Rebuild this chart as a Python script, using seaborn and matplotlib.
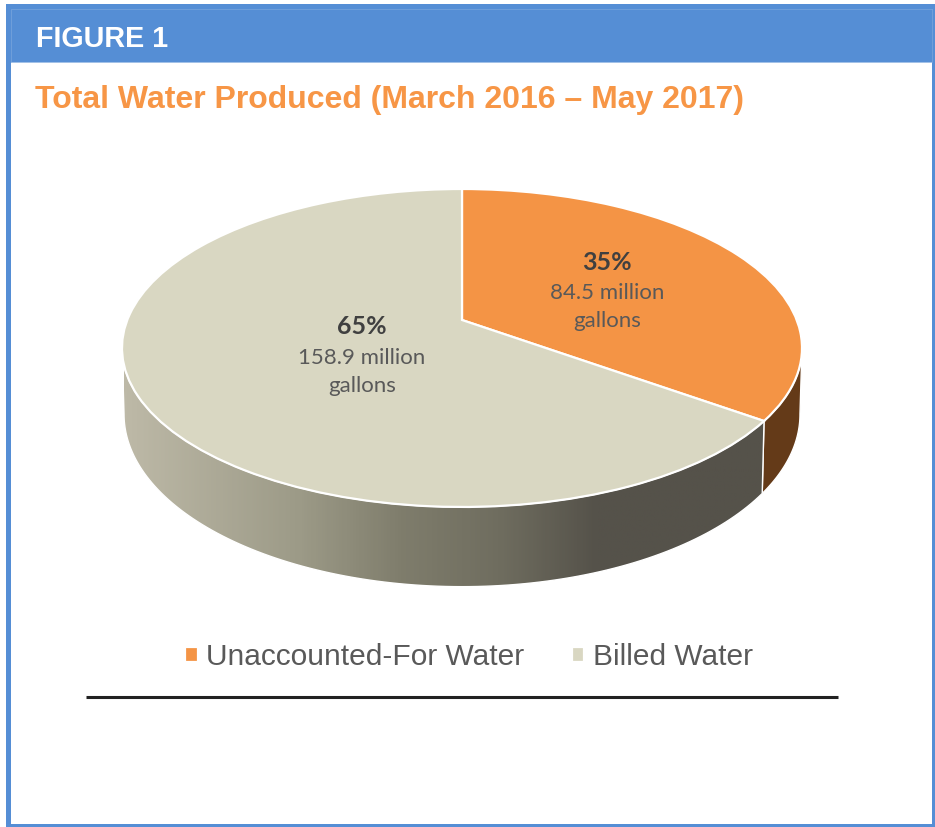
import numpy as np
import matplotlib
matplotlib.use("Agg")
import matplotlib.pyplot as plt
from matplotlib.colors import LinearSegmentedColormap
from matplotlib.patches import PathPatch, Rectangle
from matplotlib.path import Path
from matplotlib.transforms import Transform
import seaborn as sns

categories = ["Unaccounted-For Water", "Billed Water"]
percent = [35, 65]
gallons = ["84.5 million\ngallons", "158.9 million\ngallons"]

header = "FIGURE 1"
title = "Total Water Produced (March 2016 \u2013 May 2017)"

sns.set_theme(style="white")
plt.rcParams["font.family"] = ["Liberation Sans", "DejaVu Sans"]

BLUE = "#558ed5"
ORANGE = "#f79646"
pal = sns.color_palette(["#f49445", "#d9d7c2"])
wall_cmap = LinearSegmentedColormap.from_list(
    "wall", [(0, "#bdb9a7"), (0.26, "#9c9a87"), (0.41, "#7f7d6c"), (0.556, "#6f6d5f"),
             (0.70, "#55524a"), (1, "#55524a")]
)
BROWN = "#643a18"


class Tilt(Transform):
    # unit circle -> tilted disc in pixel coords, the apex sits above the ellipse centre
    input_dims = 2
    output_dims = 2
    is_affine = False
    has_inverse = False

    def __init__(self, cy, a, b, cx=462, k=0.176):
        super().__init__()
        self.cx, self.cy, self.a, self.b, self.k = cx, cy, a, b, k

    def transform_non_affine(self, xy):
        xy = np.asarray(xy, dtype=float)
        w = 1 + self.k * xy[:, 1]
        return np.column_stack([
            self.cx + self.b * xy[:, 0] / w,
            self.cy - self.a * xy[:, 1] / w,
        ])


top = Tilt(cy=320, a=154.06, b=334.7)
bottom = Tilt(cy=384, a=167, b=332.7)


def rim(disc, start, stop):
    # clockwise angles from 12 o'clock, in degrees
    t = np.radians(np.linspace(start, stop, 120))
    return disc.transform_non_affine(np.column_stack([np.sin(t), np.cos(t)]))


def wall(start, stop):
    pts = np.vstack([rim(top, start, stop), rim(bottom, start, stop)[::-1]])
    return Path(np.vstack([pts, pts[:1]]), closed=True)


fig = plt.figure(figsize=(9.35, 8.27), dpi=100)
ax = fig.add_axes([0, 0, 1, 1])

# frame and header
ax.add_patch(Rectangle((6, 4), 929, 823, facecolor=BLUE, edgecolor="none", zorder=1))
ax.add_patch(Rectangle((11, 62), 921, 762, facecolor="white", edgecolor="none", zorder=1.1))
ax.plot([11, 932, 932], [62, 62, 9], color="#7aa6dd", lw=0.5, zorder=1.2)
ax.plot([11, 11, 932], [62, 9, 9], color="#7aa6dd", lw=0.5, zorder=1.2)

wedges, _ = ax.pie(percent, colors=pal, startangle=90, counterclock=False,
                   wedgeprops={"edgecolor": "white", "linewidth": 1.6})
for w in wedges:
    w.set_transform(top + ax.transData)
    w.set_zorder(5)

split = 360 * percent[0] / sum(percent)

# side walls
ax.add_patch(PathPatch(wall(100, split), facecolor=BROWN, edgecolor="white", linewidth=1.0, zorder=3))
grad = ax.imshow(np.linspace(0, 1, 300).reshape(1, -1), cmap=wall_cmap, aspect="auto",
                 extent=(124, 800, 600, 340), zorder=3.5)
grad.set_clip_path(PathPatch(wall(split, 260), transform=ax.transData))
ax.add_patch(PathPatch(wall(split, 260), facecolor="none", edgecolor="white", linewidth=1.0, zorder=4))

ax.plot([86, 838], [696.5, 696.5], color="#222222", lw=2.2, solid_capstyle="butt", zorder=6)

ax.text(36, 39, header, color="white", fontsize=20.7, fontweight="bold", va="center", zorder=7)
ax.text(35, 100, title, color=ORANGE, fontsize=23.05, fontweight="bold", va="center", zorder=7)

label_font = ["Lato", "DejaVu Sans"]
label_pos = [(607, 262), (362, 327)]
for p, g, (x, y) in zip(percent, gallons, label_pos):
    ax.text(x, y, f"{p}%", ha="center", va="center", fontsize=18, fontweight="bold",
            color="#404040", family=label_font, zorder=7)
    ax.text(x, y + 45, g, ha="center", va="center", fontsize=16, color="#595959",
            family=label_font, linespacing=1.46, zorder=7)

leg = ax.legend(wedges, categories, ncols=2, frameon=False, loc="center",
                bbox_to_anchor=(469, 657), bbox_transform=ax.transData,
                fontsize=21.5, labelcolor="#595959", handlelength=0.42, handleheight=0.42,
                handletextpad=0.3, columnspacing=1.57, borderpad=0)
leg.set_zorder(7)

ax.set_xlim(0, 935)
ax.set_ylim(827, 0)
ax.set_aspect("auto")
ax.axis("off")

fig.savefig("out.png", dpi=100, facecolor="white")
